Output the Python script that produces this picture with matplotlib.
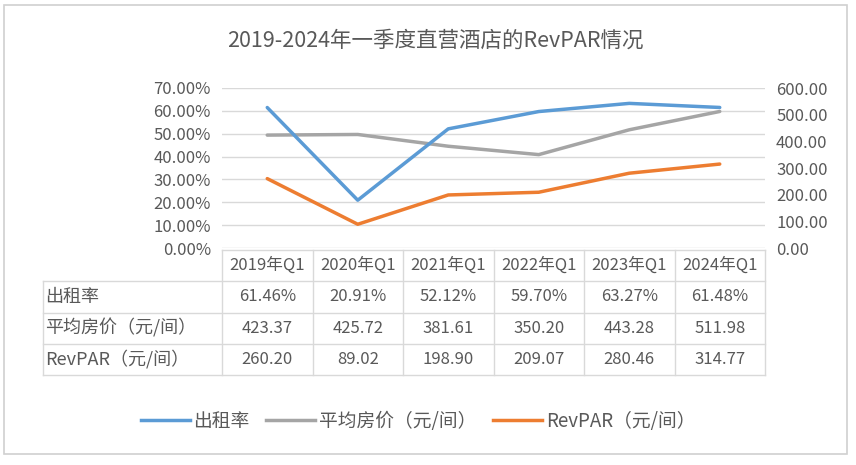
import matplotlib.pyplot as plt
from matplotlib.patches import Rectangle
from matplotlib.lines import Line2D

plt.rcParams['font.family'] = ['Noto Sans CJK SC', 'DejaVu Sans']

quarters = ['2019年Q1', '2020年Q1', '2021年Q1', '2022年Q1', '2023年Q1', '2024年Q1']
occupancy = [0.6146, 0.2091, 0.5212, 0.5970, 0.6327, 0.6148]
avgPrice = [423.37, 425.72, 381.61, 350.20, 443.28, 511.98]
revpar = [260.20, 89.02, 198.90, 209.07, 280.46, 314.77]
seriesNames = ['出租率', '平均房价（元/间）', 'RevPAR（元/间）']
leftTicks = [0, 0.1, 0.2, 0.3, 0.4, 0.5, 0.6, 0.7]
rightTicks = [0, 100, 200, 300, 400, 500, 600]

blue = '#5b9bd5'
grey = '#a5a5a5'
orange = '#ed7d31'
textColor = '#595959'
gridColor = '#d9d9d9'

W, H = 856, 465
fig = plt.figure(figsize=(W / 100, H / 100), dpi=100)

def figBox(x0, y0, x1, y1):
    # pixel box (top-left origin) -> figure fraction rect
    return [x0 / W, 1 - y1 / H, (x1 - x0) / W, (y1 - y0) / H]

# outer frame
fig.add_artist(Rectangle((4 / W, 1 - 454 / H), 843 / W, 449 / H, transform=fig.transFigure,
                         fill=False, edgecolor='#d0d0d0', linewidth=1.2))

fig.text(435 / W, 1 - 41 / H, '2019-2024年一季度直营酒店的RevPAR情况', ha='center', va='center',
         fontsize=15.5, color=textColor)

ax = fig.add_axes(figBox(222, 88, 765, 248))
ax2 = ax.twinx()
x = list(range(len(quarters)))

ax.set_ylim(0, 0.7)
ax.set_yticks(leftTicks)
ax.set_yticklabels([f'{v * 100:.2f}%' for v in leftTicks])
ax2.set_ylim(0, 600)
ax2.set_yticks(rightTicks)
ax2.set_yticklabels([f'{v:.2f}' for v in rightTicks])
ax.set_xlim(-0.5, len(quarters) - 0.5)
ax.set_xticks([])
ax.grid(axis='y', color=gridColor, linewidth=1)
for a in (ax, ax2):
    for s in a.spines.values():
        s.set_visible(False)
    a.tick_params(axis='y', length=0, labelsize=12, labelcolor=textColor, pad=8)

ax2.plot(x, avgPrice, color=grey, linewidth=2.5, solid_capstyle='round')
ax2.plot(x, revpar, color=orange, linewidth=2.5, solid_capstyle='round')
ax2.plot(x, [v * 600 / 0.7 for v in occupancy], color=blue, linewidth=2.5, solid_capstyle='round')

# data table
tab = fig.add_axes(figBox(43, 250, 765, 375))
labelLeft = -0.5 - (222 - 43) / ((765 - 222) / 6)
tab.set_xlim(labelLeft, len(quarters) - 0.5)
tab.set_ylim(4, 0)
tab.axis('off')
rows = [
    [f'{v * 100:.2f}%' for v in occupancy],
    [f'{v:.2f}' for v in avgPrice],
    [f'{v:.2f}' for v in revpar],
]
lineKw = dict(color=gridColor, linewidth=1)
# header row
tab.plot([-0.5, len(quarters) - 0.5], [0, 0], **lineKw)
for i, q in enumerate(quarters):
    tab.text(i, 0.5, q, ha='center', va='center', fontsize=12, color=textColor)
for r in range(1, 5):
    tab.plot([labelLeft, len(quarters) - 0.5], [r, r], **lineKw)
for c in range(len(quarters) + 1):
    tab.plot([c - 0.5, c - 0.5], [0, 4], **lineKw)
tab.plot([labelLeft, labelLeft], [1, 4], **lineKw)
for r, (name, vals) in enumerate(zip(seriesNames, rows)):
    tab.text(labelLeft + 0.02, r + 1.5, name, ha='left', va='center', fontsize=13, color=textColor)
    for i, v in enumerate(vals):
        tab.text(i, r + 1.5, v, ha='center', va='center', fontsize=12, color=textColor)
for line in tab.lines:
    line.set_clip_on(False)

handles = [Line2D([], [], color=c, linewidth=2.5) for c in (blue, grey, orange)]
fig.legend(handles, seriesNames, loc='center', bbox_to_anchor=(418 / W, 1 - 421 / H), ncol=3,
           frameon=False, fontsize=13.5, labelcolor=textColor, handlelength=2.6,
           handletextpad=0.2, columnspacing=0.9)

fig.savefig('out.png', dpi=100)
